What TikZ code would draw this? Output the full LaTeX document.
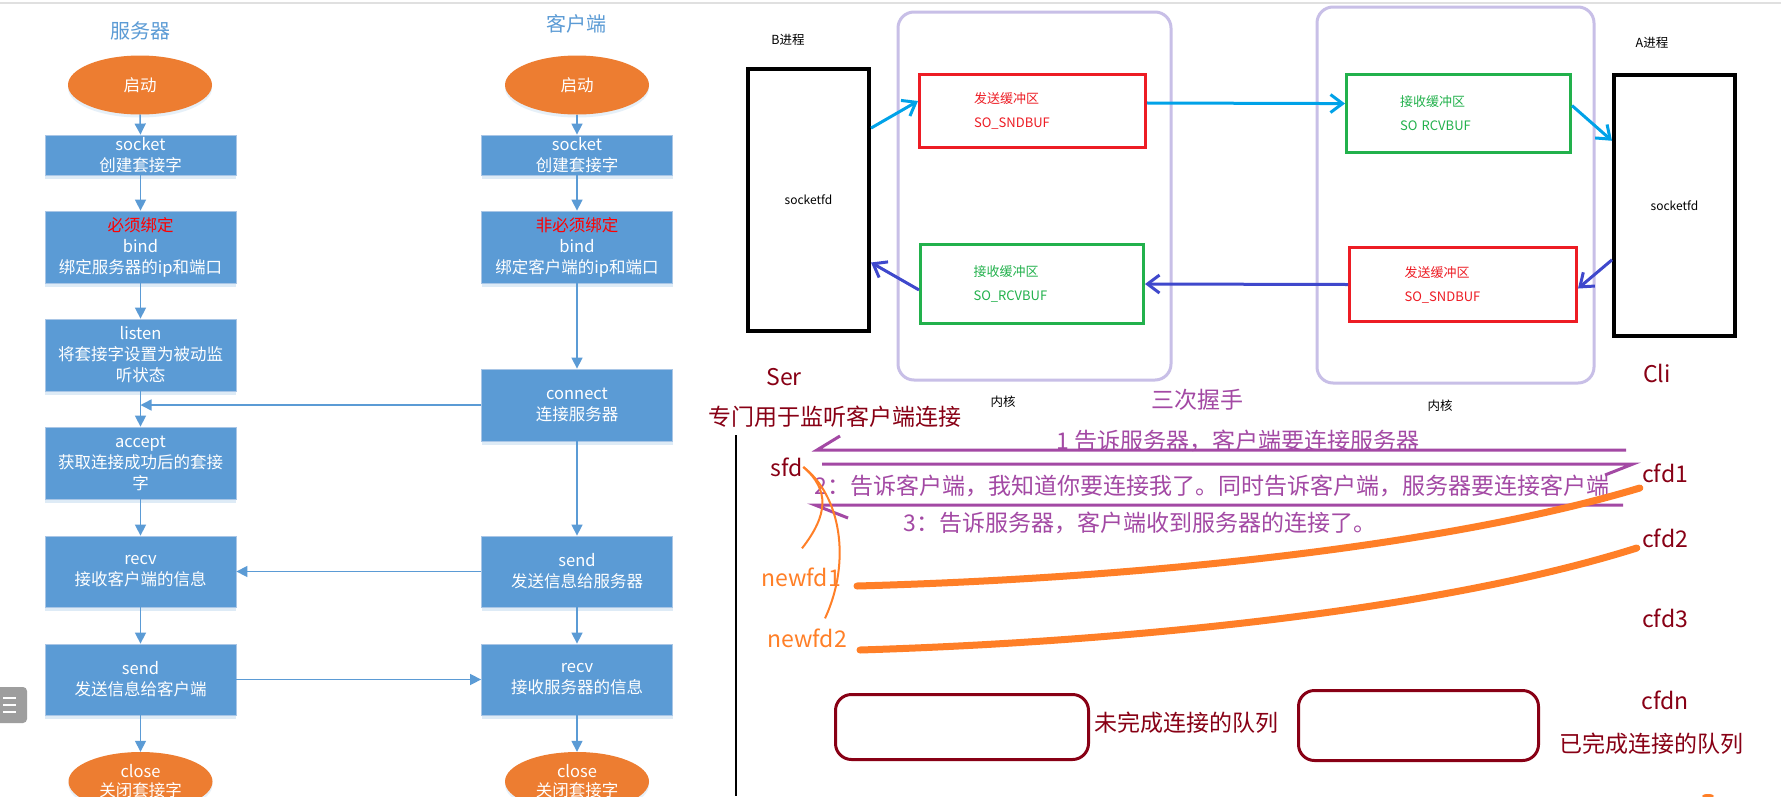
\documentclass[tikz,border=0pt]{standalone}
\usepackage{fontspec}
\setmainfont{Noto Sans CJK SC}
\usepackage{xcolor}
\usetikzlibrary{arrows.meta, positioning, calc, shapes.geometric, shadows}
\definecolor{flowblue}{HTML}{5B9BD5}
\definecolor{flowedge}{HTML}{A9C6E6}
\definecolor{floworange}{HTML}{ED7D31}
\definecolor{kernlav}{HTML}{C8BFE7}
\definecolor{bufred}{HTML}{ED1C24}
\definecolor{bufgreen}{HTML}{22B14C}
\definecolor{sendcyan}{HTML}{00A2E8}
\definecolor{recvblue}{HTML}{3F48CC}
\definecolor{darkred}{HTML}{880015}
\definecolor{hspurple}{HTML}{A349A4}
\definecolor{fdorange}{HTML}{FF7F27}

\begin{document}
\begin{tikzpicture}[x=1pt, y=-1pt,
    flowbox/.style={rectangle, fill=flowblue, draw=flowedge, line width=0.8pt, text=white,
      minimum width=191, minimum height=72, inner sep=0pt, align=center,
      font=\fontsize{16.5}{21}\selectfont,
      drop shadow={shadow xshift=0pt, shadow yshift=-4pt, fill=flowblue, opacity=0.2}},
    startend/.style={ellipse, fill=floworange, text=white, minimum width=144, minimum height=59,
      inner sep=0pt, align=center, font=\fontsize{16.5}{19}\selectfont,
      drop shadow={shadow xshift=0pt, shadow yshift=-3pt, fill=flowblue, opacity=0.15}},
    title/.style={text=flowblue, inner sep=0pt, font=\fontsize{20}{22}\selectfont},
    flow/.style={draw=flowblue, line width=1.5pt, -{Triangle[length=11pt, width=11pt]}},
    kernel/.style={rectangle, draw=kernlav, line width=3pt, rounded corners=16pt},
    buf/.style={rectangle, line width=3pt, inner sep=0pt, align=left, text width=117,
      font=\fontsize{13}{24}\selectfont},
    proc/.style={rectangle, draw=black, line width=4pt, minimum width=121, inner sep=0pt,
      font=\fontsize{12}{14}\selectfont},
    small/.style={inner sep=0pt, font=\fontsize{12.5}{14}\selectfont},
    sendarr/.style={draw=sendcyan, line width=3pt, -{Straight Barb[length=12pt, width=18pt]}},
    recvarr/.style={draw=recvblue, line width=3pt, -{Straight Barb[length=12pt, width=18pt]}},
    hs/.style={draw=hspurple, line width=3pt},
    hstext/.style={text=hspurple, inner sep=0pt, font=\fontsize{23}{26}\selectfont},
    fd/.style={text=darkred, inner sep=0pt, font=\fontsize{23}{26}\selectfont},
    newfd/.style={text=fdorange, inner sep=0pt, font=\fontsize{23}{26}\selectfont},
    fdlink/.style={draw=fdorange, line width=2pt},
    fdqueue/.style={draw=fdorange, line width=7pt, line cap=round},
    queue/.style={rectangle, draw=darkred, line width=3pt, rounded corners=16pt}]
\useasboundingbox[fill=white] (0,0) rectangle (1781,796);
\draw[black!12, line width=2pt] (0,3) -- (1781,3);

% server / client flow
\node[title] at (140,31) {服务器};
\node[title] at (576,24) {客户端};
\node[startend] (sstart) at (140,85) {启动};
\node[flowbox, minimum height=40] (ssock) at (140.5,155) {socket\\创建套接字};
\node[flowbox] (sbind) at (140.5,247) {\textcolor{red}{必须绑定}\\bind\\绑定服务器的ip和端口};
\node[flowbox] (slisten) at (140.5,355) {listen\\将套接字设置为被动监\\听状态};
\node[flowbox] (saccept) at (140.5,463) {accept\\获取连接成功后的套接\\字};
\node[flowbox, minimum height=71] (srecv) at (140.5,571.5) {recv\\接收客户端的信息};
\node[flowbox, minimum height=71] (ssend) at (140.5,679.5) {send\\发送信息给客户端};
\node[startend] (sclose) at (140.5,781.5) {close\\关闭套接字};

\node[startend] (cstart) at (577,85) {启动};
\node[flowbox, minimum height=40] (csock) at (577,155) {socket\\创建套接字};
\node[flowbox] (cbind) at (577,247) {\textcolor{red}{非必须绑定}\\bind\\绑定客户端的ip和端口};
\node[flowbox] (cconn) at (577,405) {connect\\连接服务器};
\node[flowbox, minimum height=71] (csend) at (577,571.5) {send\\发送信息给服务器};
\node[flowbox, minimum height=71] (crecv) at (577,679.5) {recv\\接收服务器的信息};
\node[startend] (cclose) at (577,781.5) {close\\关闭套接字};

\draw[flow] (sstart.south) -- (ssock.north);
\draw[flow] (ssock.south) -- (sbind.north);
\draw[flow] (sbind.south) -- (slisten.north);
\draw[flow] (slisten.south) -- (saccept.north);
\draw[flow] (saccept.south) -- (srecv.north);
\draw[flow] (srecv.south) -- (ssend.north);
\draw[flow] (ssend.south) -- (sclose.north);
\draw[flow] (cstart.south) -- (csock.north);
\draw[flow] (csock.south) -- (cbind.north);
\draw[flow] (cbind.south) -- (cconn.north);
\draw[flow] (cconn.south) -- (csend.north);
\draw[flow] (csend.south) -- (crecv.north);
\draw[flow] (crecv.south) -- (cclose.north);
\draw[flow] (cconn.west) -- (cconn.west -| slisten.south);
\draw[flow] (csend.west) -- (srecv.east);
\draw[flow] (ssend.east) -- (crecv.west);

\fill[black!38, rounded corners=4pt] (-6,687) rectangle (27,723);
\foreach \yy in {698,705,712}
    \draw[white, line width=1.8pt] (3,\yy) -- (16,\yy);

% buffers
\node[kernel, minimum width=273, minimum height=368] (kerB) at (1034.5,196) {};
\node[kernel, minimum width=277, minimum height=376] (kerA) at (1455.5,195) {};
\node[proc, minimum height=262] (pB) at (808.5,200) {socketfd};
\node[proc, minimum height=261] (pA) at (1674.5,205.5) {socketfd};
\node[small] at (788,40) {B进程};
\node[small] at (1652,43) {A进程};
\node[buf, draw=bufred, text=bufred, minimum width=226, minimum height=73] (bufBs) at (1032.5,111) {发送缓冲区\\SO\_SNDBUF};
\node[buf, draw=bufgreen, text=bufgreen, minimum width=224, minimum height=78] (bufAr) at (1458.5,113.5) {接收缓冲区\\SO RCVBUF};
\node[buf, draw=bufgreen, text=bufgreen, minimum width=223, minimum height=79] (bufBr) at (1032,284) {接收缓冲区\\SO\_RCVBUF};
\node[buf, draw=bufred, text=bufred, minimum width=227, minimum height=74] (bufAs) at (1463,284.5) {发送缓冲区\\SO\_SNDBUF};
\draw[sendarr] (pB.49) -- (bufBs.175);
\draw[sendarr] (bufBs.4) -- (bufAr.175);
\draw[sendarr] (bufAr.4) -- (pA.134);
\draw[recvarr] (pA.221) -- (bufAs.-2);
\draw[recvarr] (bufAs.west) -- (bufBr.east);
\draw[recvarr] (bufBr.183) -- (pB.-45);
\node[fd] (ser) at (784,377) {Ser};
\node[fd] (cli) at (1657,373) {Cli};
\node[small] at (1003,402) {内核};
\node[small] at (1440,406) {内核};

% handshake
\node[hstext] at (1197,400) {三次握手};
\node[fd] at (835,417) {专门用于监听客户端连接};
\draw[line width=1.2pt] (736,435) -- (736,796);
\coordinate (h1w) at (817,450);
\coordinate (h1e) at (1626,450);
\coordinate (h2w) at (822,464);
\coordinate (h2e) at (1633,464);
\coordinate (h3w) at (815,505);
\coordinate (h3e) at (1623,505);
\draw[hs] (h1e) -- (h1w) -- ++(23,-14);
\draw[hs] (h2w) -- (h2e) -- ++(-28,11);
\draw[hs] (h3e) -- (h3w) -- ++(33,13);
\node[hstext] at (1238,441) {1 告诉服务器，客户端要连接服务器};
\node[hstext] at (1212,486) {2：告诉客户端，我知道你要连接我了。同时告诉客户端，服务器要连接客户端};
\node[hstext] at (1140,523) {3：告诉服务器，客户端收到服务器的连接了。};

\node[fd] (sfd) at (787,467) {sfd};
\node[fd] (cfd1) at (1665,473) {cfd1};
\node[fd] (cfd2) at (1665,538) {cfd2};
\node[fd] (cfd3) at (1665,618) {cfd3};
\node[fd] (cfdn) at (1665,700) {cfdn};
\node[newfd] (newfd1) at (801,577) {newfd1};
\node[newfd] (newfd2) at (807,638) {newfd2};
\draw[fdlink] (sfd.east) .. controls (830,490) and (828,515) .. ($(newfd1.north)+(1,-19)$);
\draw[fdlink] (sfd.east) .. controls (840,495) and (852,560) .. ($(newfd2.north)+(18,-10)$);
\draw[fdqueue] ($(newfd1.east)+(16,9)$) .. controls (1150,578) and (1450,545) .. ($(cfd1.west)+(-2,15)$);
\draw[fdqueue] ($(newfd2.east)+(13,12)$) .. controls (1150,641) and (1450,607) .. ($(cfd2.west)+(-5,10)$);

% queues
\node[queue, minimum width=253, minimum height=65] (qhalf) at (962,727) {};
\node[queue, minimum width=240, minimum height=70] (qfull) at (1418.5,725.5) {};
\node[fd] at (1186,723) {未完成连接的队列};
\node[fd] at (1651,744) {已完成连接的队列};
\fill[fdorange] (1708,796) ellipse (6 and 2);
\end{tikzpicture}
\end{document}
